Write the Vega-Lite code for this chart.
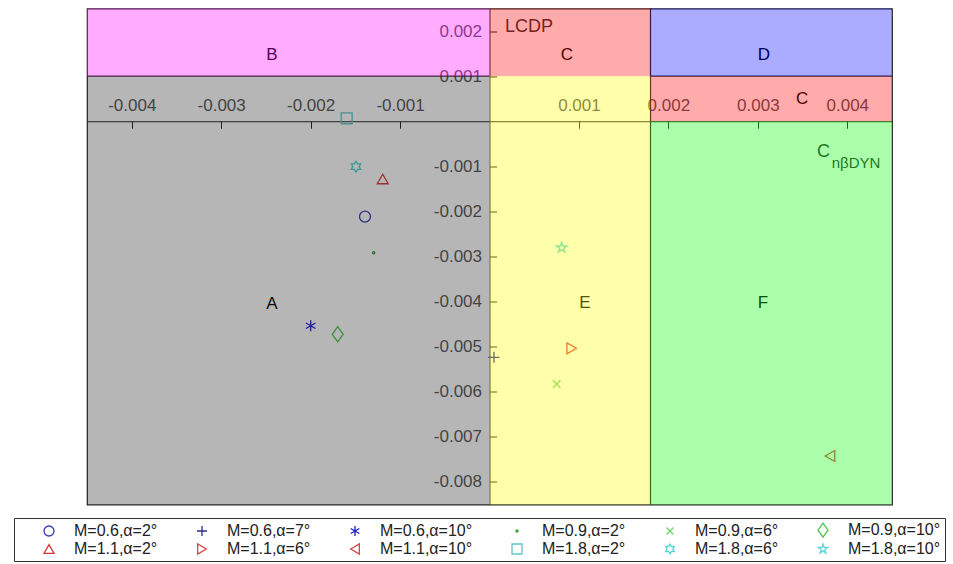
{
  "$schema": "https://vega.github.io/schema/vega-lite/v6.json",
  "width": 805,
  "height": 496,
  "autosize": {"type": "none"},
  "padding": {"left": 87, "top": 8.5, "right": 61, "bottom": 59.5},
  "background": "white",
  "config": {
    "font": "Liberation Sans",
    "view": {"stroke": "#222222", "strokeWidth": 1.2}
  },
  "datasets": {
    "lines": [
      {"x": 0.0018, "x2": 0.0018, "y": -0.0085, "y2": 0.0025},
      {"x": -0.0045, "x2": 0, "y": 0.001, "y2": 0.001},
      {"x": 0.0018, "x2": 0.0045, "y": 0.001, "y2": 0.001}
    ],
    "letters": [
      {"x": -0.002432, "y": 0.001469, "text": "B"},
      {"x": 0.000866, "y": 0.001469, "text": "C"},
      {"x": 0.003069, "y": 0.001469, "text": "D"},
      {"x": -0.002432, "y": -0.004053, "text": "A"},
      {"x": 0.001068, "y": -0.004031, "text": "E"},
      {"x": 0.003058, "y": -0.004031, "text": "F"},
      {"x": 0.003494, "y": 0.000493, "text": "C"}
    ],
    "titles": [
      {"x": 0.000173, "y": 0.00209, "text": "LCDP"},
      {"x": 0.003662, "y": -0.000676, "text": "C"}
    ],
    "subs": [
      {"x": 0.003826, "y": -0.00092, "text": "nβDYN"}
    ],
    "points": [
      {"series": "M=0.6,α=2°", "x": -0.001392, "y": -0.002117},
      {"series": "M=0.6,α=7°", "x": 0.00005, "y": -0.005235},
      {"series": "M=0.6,α=10°", "x": -0.001999, "y": -0.004535},
      {"series": "M=0.9,α=2°", "x": -0.001295, "y": -0.002916},
      {"series": "M=0.9,α=6°", "x": 0.000751, "y": -0.005828},
      {"series": "M=0.9,α=10°", "x": -0.001697, "y": -0.004725},
      {"series": "M=1.1,α=2°", "x": -0.001194, "y": -0.001281},
      {"series": "M=1.1,α=6°", "x": 0.000919, "y": -0.005036},
      {"series": "M=1.1,α=10°", "x": 0.003807, "y": -0.007424},
      {"series": "M=1.8,α=2°", "x": -0.001597, "y": 0.000065},
      {"series": "M=1.8,α=6°", "x": -0.001493, "y": -0.001008},
      {"series": "M=1.8,α=10°", "x": 0.000807, "y": -0.002805}
    ],
    "regions": [
      {"region": "A", "x": -0.0045, "x2": 0, "y": -0.0085, "y2": 0.001},
      {"region": "B", "x": -0.0045, "x2": 0, "y": 0.001, "y2": 0.0025},
      {"region": "C", "x": 0, "x2": 0.0018, "y": 0.001, "y2": 0.0025},
      {"region": "D", "x": 0.0018, "x2": 0.0045, "y": 0.001, "y2": 0.0025},
      {"region": "E", "x": 0, "x2": 0.0018, "y": -0.0085, "y2": 0.001},
      {"region": "C2", "x": 0.0018, "x2": 0.0045, "y": 0, "y2": 0.001},
      {"region": "F", "x": 0.0018, "x2": 0.0045, "y": -0.0085, "y2": 0}
    ]
  },
  "encoding": {
    "x": {
      "field": "x", "type": "quantitative",
      "scale": {"domain": [-0.0045, 0.0045], "nice": false, "zero": false},
      "axis": {
        "orient": "bottom", "offset": -383.27,
        "values": [-0.004, -0.003, -0.002, -0.001, 0.001, 0.002, 0.003, 0.004],
        "format": ".3f", "labelExpr": "replace(datum.label, '\u2212', '-')",
        "title": null, "grid": false,
        "tickSize": 7, "labelPadding": -17.5, "labelBaseline": "alphabetic",
        "labelFontSize": 17, "labelColor": "#555555", "labelFont": "Liberation Sans",
        "domainColor": "#222222", "tickColor": "#222222",
        "labelOverlap": false, "labelFlush": false
      }
    },
    "y": {
      "field": "y", "type": "quantitative",
      "scale": {"domain": [-0.0085, 0.0025], "nice": false, "zero": false},
      "axis": {
        "orient": "right", "offset": -402.5,
        "values": [0.002, 0.001, -0.001, -0.002, -0.003, -0.004, -0.005, -0.006, -0.007, -0.008],
        "format": ".3f", "labelExpr": "replace(datum.label, '\u2212', '-')",
        "title": null, "grid": false,
        "tickSize": 7, "labelPadding": -15, "labelAlign": "right", "labelBaseline": "middle",
        "labelFontSize": 17, "labelColor": "#555555", "labelFont": "Liberation Sans",
        "domainColor": "#222222", "tickColor": "#222222",
        "labelOverlap": false, "labelFlush": false
      }
    }
  },
  "layer": [
    {
      "data": {"name": "lines"},
      "mark": {"type": "rule", "color": "#222222", "strokeWidth": 1.2},
      "encoding": {"x2": {"field": "x2"}, "y2": {"field": "y2"}}
    },
    {
      "data": {"name": "letters"},
      "mark": {"type": "text", "fontSize": 17, "color": "#000000", "align": "center", "baseline": "middle"},
      "encoding": {"text": {"field": "text"}}
    },
    {
      "data": {"name": "titles"},
      "mark": {"type": "text", "fontSize": 18, "color": "#333333", "align": "left", "baseline": "middle"},
      "encoding": {"text": {"field": "text"}}
    },
    {
      "data": {"name": "subs"},
      "mark": {"type": "text", "fontSize": 15, "color": "#333333", "align": "left", "baseline": "middle"},
      "encoding": {"text": {"field": "text"}}
    },
    {
      "data": {"name": "points"},
      "mark": {"type": "point", "filled": false, "strokeWidth": 1.3, "size": 120, "opacity": 1},
      "encoding": {
        "color": {
          "field": "series", "type": "nominal",
          "scale": {
            "domain": ["M=0.6,α=2°", "M=0.6,α=7°", "M=0.6,α=10°", "M=0.9,α=2°", "M=0.9,α=6°", "M=0.9,α=10°", "M=1.1,α=2°", "M=1.1,α=6°", "M=1.1,α=10°", "M=1.8,α=2°", "M=1.8,α=6°", "M=1.8,α=10°"],
            "range": ["#3a3ab8", "#2b2b8f", "#1c1cc8", "#2ca02c", "#66d966", "#4cc44c", "#d43a3a", "#e04040", "#d04545", "#5cc8c8", "#4fd6d6", "#5cd6d6"]
          },
          "legend": {
            "title": null, "orient": "none", "legendX": -73, "legendY": 509.5,
            "direction": "horizontal", "columns": 6, "columnPadding": 13, "rowPadding": 1,
            "strokeColor": "#333333", "padding": 4, "symbolOffset": 23,
            "symbolSize": 100, "symbolStrokeWidth": 1.3, "labelOffset": 17,
            "labelFontSize": 16, "labelFont": "Liberation Sans", "labelColor": "#222222", "labelLimit": 200
          }
        },
        "shape": {
          "field": "series", "type": "nominal",
          "scale": {
            "domain": ["M=0.6,α=2°", "M=0.6,α=7°", "M=0.6,α=10°", "M=0.9,α=2°", "M=0.9,α=6°", "M=0.9,α=10°", "M=1.1,α=2°", "M=1.1,α=6°", "M=1.1,α=10°", "M=1.8,α=2°", "M=1.8,α=6°", "M=1.8,α=10°"],
            "range": [
              "circle",
              "M-1,0L1,0M0,-1L0,1",
              "M0,-1L0,1M-0.87,-0.5L0.87,0.5M-0.87,0.5L0.87,-0.5",
              "M-0.2,0A0.2,0.2,0,1,1,0.2,0A0.2,0.2,0,1,1,-0.2,0Z",
              "M-0.7,-0.7L0.7,0.7M-0.7,0.7L0.7,-0.7",
              "M0,-1.4L1,0L0,1.4L-1,0Z",
              "triangle-up",
              "triangle-right",
              "triangle-left",
              "square",
              "M0,-1L0.289,-0.5L0.866,-0.5L0.577,0L0.866,0.5L0.289,0.5L0,1L-0.289,0.5L-0.866,0.5L-0.577,0L-0.866,-0.5L-0.289,-0.5Z",
              "M0,-1L0.225,-0.309L0.951,-0.309L0.363,0.118L0.588,0.809L0,0.382L-0.588,0.809L-0.363,0.118L-0.951,-0.309L-0.225,-0.309Z"
            ]
          },
          "legend": {
            "title": null, "orient": "none", "legendX": -73, "legendY": 509.5,
            "direction": "horizontal", "columns": 6, "columnPadding": 13, "rowPadding": 1,
            "strokeColor": "#333333", "padding": 4, "symbolOffset": 23,
            "symbolSize": 100, "symbolStrokeWidth": 1.3, "labelOffset": 17,
            "labelFontSize": 16, "labelFont": "Liberation Sans", "labelColor": "#222222", "labelLimit": 200
          }
        }
      }
    },
    {
      "data": {"name": "regions"},
      "mark": {"type": "rect", "fillOpacity": 0.33, "strokeWidth": 0},
      "encoding": {
        "x2": {"field": "x2"},
        "y2": {"field": "y2"},
        "fill": {
          "field": "region", "type": "nominal",
          "scale": {"domain": ["A", "B", "C", "D", "E", "F", "C2"], "range": ["#222222", "#ff00ff", "#ff0000", "#0000ff", "#ffff00", "#00ff00", "#ff0000"]},
          "legend": null
        }
      }
    }
  ]
}
